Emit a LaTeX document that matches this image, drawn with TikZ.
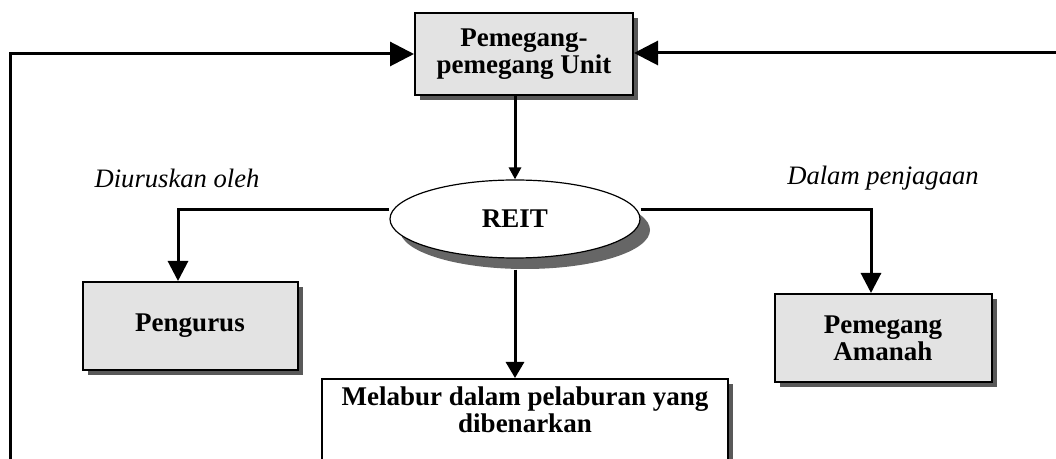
\documentclass[tikz,border=0pt]{standalone}
\usepackage{fontspec}
\setmainfont{Liberation Serif}
\usetikzlibrary{arrows.meta, shapes.geometric, shadows, positioning}
\tikzset{
    boxnode/.style = {draw, rectangle, line width=1pt, fill=gray!22, align=center,
      inner sep=0pt, font=\fontsize{13.5}{13.5}\selectfont\bfseries,
      drop shadow={shadow xshift=2.5pt, shadow yshift=-2.5pt, fill=black!65, fill opacity=1, opacity=1}},
    ellipsenode/.style = {draw, ellipse, line width=0.6pt, fill=white, inner sep=0pt,
      font=\fontsize{13.5}{13.5}\selectfont\bfseries,
      drop shadow={shadow xshift=5pt, shadow yshift=-5.5pt, fill=black!60, fill opacity=1, opacity=1}},
    textnode/.style = {draw=none, fill=none, inner sep=0pt, font=\fontsize{13.3}{13.5}\selectfont\itshape},
    connect/.style = {black, line width=1.5pt, -{Triangle[length=10pt, width=10pt]}},
    line/.style = {black, line width=1.5pt}
}

\begin{document}
\begin{tikzpicture}[x=0.5pt, y=-0.5pt]
    \useasboundingbox (0,0) rectangle (1056,459);

    \node [name=unit, boxnode, minimum width=109pt, minimum height=41pt]
        at (524,54) {Pemegang-\\pemegang Unit};
    \node [name=reit, ellipsenode, minimum width=125pt, minimum height=39pt]
        at (515,219) {REIT};
    \node [name=mgr, boxnode, minimum width=107.5pt, minimum height=44pt]
        at (190,326) {Pengurus};
    \node [name=trustee, boxnode, minimum width=108.5pt, minimum height=44pt]
        at (883,338) {Pemegang\\Amanah};
    \node [name=invest, boxnode, fill=white, anchor=north, minimum width=203pt,
        inner ysep=4pt, text depth=40pt] at (525,378) {Melabur dalam pelaburan yang\\dibenarkan};

    \node [name=lblmgr, textnode] at (177,178) {Diuruskan oleh};
    \node [name=lbltrustee, textnode] at (883,178) {Dalam penjagaan};

    \coordinate (lb) at (10,470);
    \coordinate (re) at (1070,53);

    % feedback lines into the unit holders
    \draw [connect, -{Triangle[length=12pt, width=12pt]}] (lb) |- (unit.west);
    \draw [connect, -{Triangle[length=12pt, width=12pt]}] (re) -- (unit.east |- re);

    % REIT links
    \draw [connect, -{Triangle[length=6pt, width=6pt]}] (unit.south -| reit.north) -- (reit.north);
    \draw [connect] ([yshift=4.5pt]reit.west) -| ([xshift=-6pt]mgr.north);
    \draw [connect] ([yshift=4.5pt]reit.east) -| ([xshift=-6pt]trustee.north);
    \draw [connect, -{Triangle[length=8pt, width=9pt]}] ([yshift=-5.5pt]reit.south) -- (reit.south |- invest.north);
\end{tikzpicture}
\end{document}
